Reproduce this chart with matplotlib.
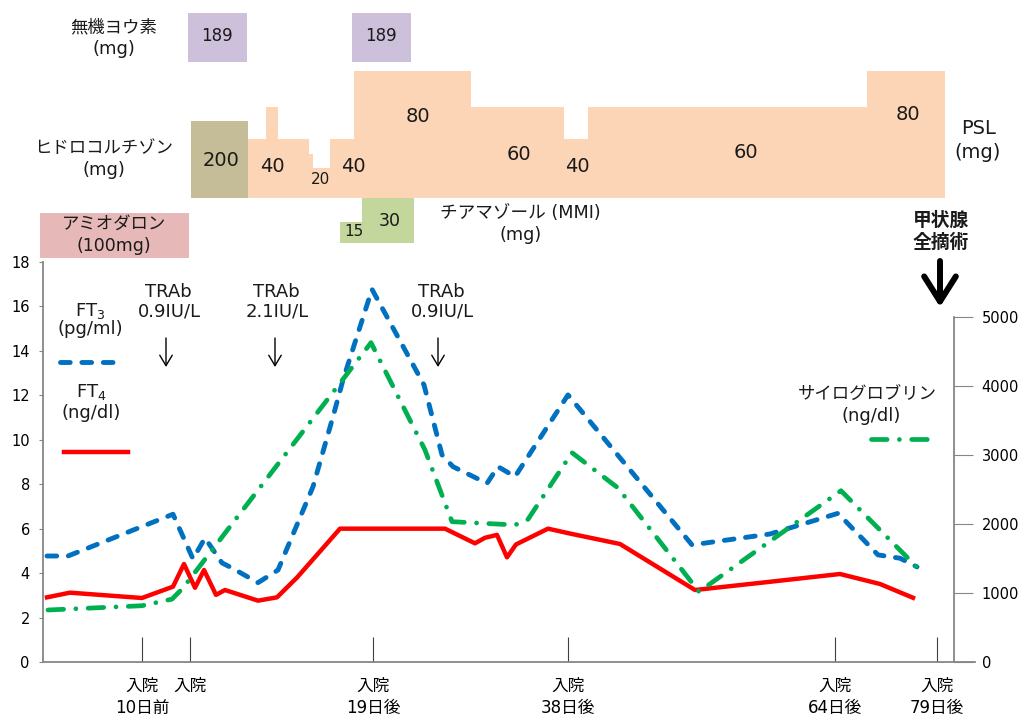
import matplotlib
matplotlib.use("Agg")
import matplotlib.pyplot as plt

plt.rcParams['font.family'] = ['DejaVu Sans', 'Noto Sans CJK JP']

# --- time positions (irregular category axis, chart units) ---
tick_pos = [142, 190, 373, 568, 835, 937]
tick_labels = ['入院\n10日前', '入院', '入院\n19日後', '入院\n38日後', '入院\n64日後', '入院\n79日後']

# FT3 (pg/ml)
ft3_x = [47, 68, 173, 193, 205, 222, 232, 258, 278, 313, 333, 343, 372, 424, 442, 453,
         487, 498, 515, 568, 692, 770, 838, 878, 900, 917]
ft3 = [4.77, 4.77, 6.65, 4.64, 5.58, 4.46, 4.23, 3.57, 4.14, 7.89, 11.04, 12.69, 16.77,
       12.47, 9.32, 8.79, 8.04, 8.79, 8.34, 12.02, 5.27, 5.76, 6.69, 4.82, 4.67, 4.28]

# FT4 (ng/dl)
ft4_x = [47, 70, 142, 173, 184, 195, 204, 216, 225, 258, 277, 297, 340, 445, 475, 485,
         497, 507, 516, 548, 570, 620, 695, 770, 840, 880, 913]
ft4 = [2.91, 3.12, 2.88, 3.39, 4.41, 3.34, 4.14, 3.02, 3.24, 2.76, 2.91, 3.8, 6.0, 6.0,
       5.34, 5.59, 5.72, 4.71, 5.29, 6.0, 5.78, 5.31, 3.24, 3.61, 3.96, 3.51, 2.89]

# Thyroglobulin (ng/dl), right axis
tg_x = [48, 142, 172, 183, 371, 425, 452, 515, 528, 572, 618, 699, 841, 918]
tg = [753, 815, 910, 1072, 4624, 3070, 2032, 1984, 2066, 3031, 2520, 1018, 2480, 1357]

# steroid panel (PSL-equivalent heights)
psl_start = [248, 266, 278, 309, 313, 330, 354, 471, 564, 588, 867]
psl_end = [266, 278, 309, 313, 330, 354, 471, 564, 588, 867, 945]
psl_level = [38.7, 60.3, 38.7, 29, 19.9, 38.7, 84.3, 60.3, 38.7, 60.3, 84.3]
hc_start, hc_end, hc_level = 191, 248, 51

mmi_start = [340, 362]
mmi_end = [362, 414]
mmi_dose = [13.6, 30]

iodine_start = [188, 352]
iodine_end = [247, 411]
amio_start, amio_end = 40, 189

BLUE = '#0070C0'
RED = '#FF0000'
GREEN = '#00B050'
GRAY = '#868686'
TG_DASH = (3.3, 2.6, 0.01, 2.6)

fig = plt.figure(figsize=(10.3, 7.15), dpi=100)
W, H = 1030, 715

# main chart
ax = fig.add_axes([43 / W, 53 / H, 932 / W, 400 / H])
ax.set_xlim(43, 975)
ax.set_ylim(0, 18)
ax.set_yticks(range(0, 19, 2))
for s in ['top', 'right']:
    ax.spines[s].set_visible(False)
for s in ['left', 'bottom']:
    ax.spines[s].set_color(GRAY)
    ax.spines[s].set_linewidth(1.3)
ax.tick_params(axis='y', direction='out', length=3, color=GRAY, labelsize=10.5, pad=6.5)
ax.set_xticks(tick_pos)
ax.set_xticklabels(tick_labels, fontsize=12, linespacing=1.25)
ax.tick_params(axis='x', direction='in', length=18, width=0.8, color='#404040', pad=11)

ax.plot(ft4_x, ft4, color=RED, lw=3.2)
ax.plot(ft3_x, ft3, color=BLUE, lw=3.5, dashes=(2.0, 2.4), dash_capstyle='round')

ax2 = ax.twinx()
ax2.set_ylim(0, 5000 * 400 / 345.3)
ax2.set_yticks(range(0, 5001, 1000))
for s in ['top', 'left', 'bottom']:
    ax2.spines[s].set_visible(False)
ax2.spines['right'].set_position(('data', 954))
ax2.spines['right'].set_bounds(0, 5000)
ax2.spines['right'].set_color(GRAY)
ax2.spines['right'].set_linewidth(1.3)
ax2.tick_params(axis='y', direction='out', length=14, color=GRAY, labelsize=10.5, pad=6)
ax2.plot(tg_x, tg, color=GREEN, lw=3.4, dashes=TG_DASH, dash_capstyle='round')

# drug panel
axt = fig.add_axes([43 / W, (H - 262) / H, 932 / W, 262 / H])
axt.set_xlim(43, 975)
axt.set_ylim(-43, 131.7)
axt.axis('off')
axt.bar(psl_start, psl_level, width=[e - s for s, e in zip(psl_start, psl_end)],
        align='edge', color='#FBD5B5', linewidth=0)
axt.bar(hc_start, hc_level, width=hc_end - hc_start, align='edge', color='#C4BD97', linewidth=0)
axt.bar(mmi_start, mmi_dose, width=[e - s for s, e in zip(mmi_start, mmi_end)],
        bottom=-30.1, align='edge', color='#C3D69B', linewidth=0)
axt.bar(iodine_start, 32.3, width=[e - s for s, e in zip(iodine_start, iodine_end)],
        bottom=90.5, align='edge', color='#CCC0DA', linewidth=0)
axt.bar(amio_start, 30, width=amio_end - amio_start, bottom=-40.2, align='edge',
        color='#E6B9B8', linewidth=0, clip_on=False)

# overlay for labels (pixel coords)
ov = fig.add_axes([0, 0, 1, 1])
ov.set_xlim(0, W)
ov.set_ylim(H, 0)
ov.axis('off')


def t(x, y, s, size=12, **kw):
    ov.text(x, y, s, fontsize=size, ha='center', va='center', color='#1a1a1a', **kw)


t(114, 27, '無機ヨウ素', 12.5)
t(114, 49, '(mg)', 13)
t(217, 36, '189', 12)
t(381, 36, '189', 12)
t(104, 148, 'ヒドロコルチゾン', 12.5)
t(104, 170, '(mg)', 13)
for x, y, s, sz in [(221, 160, '200', 14), (272.5, 166, '40', 14), (320, 179, '20', 11),
                    (353.5, 166, '40', 14), (418, 116, '80', 14), (519, 154, '60', 14),
                    (577.5, 167, '40', 14), (746, 152, '60', 14), (907.5, 114, '80', 14)]:
    t(x, y, s, sz)
t(979, 128, 'PSL', 14)
t(978, 152, '(mg)', 14)
t(114, 224, 'アミオダロン', 12.5)
t(114, 246, '(100mg)', 12.5)
t(354, 232, '15', 11)
t(389.5, 221, '30', 12.5)
t(520, 213, 'チアマゾール (MMI)', 12.7)
t(521, 235, '(mg)', 12.7)
t(941, 220, '甲状腺', 13.5, fontweight='bold')
t(941, 242, '全摘術', 13.5, fontweight='bold')

for x, v in [(168, '0.9IU/L'), (276, '2.1IU/L'), (441, '0.9IU/L')]:
    t(x, 292, 'TRAb', 13)
    t(x + 1.5, 312, v, 13)
for x in [166, 275, 438]:
    ov.annotate('', xy=(x, 367), xytext=(x, 338),
                arrowprops=dict(arrowstyle='->,head_length=0.5,head_width=0.3', lw=1,
                                color='black', shrinkA=0, shrinkB=0, mutation_scale=15))
ov.annotate('', xy=(940, 307), xytext=(940, 261),
            arrowprops=dict(arrowstyle='->,head_length=0.6,head_width=0.38', lw=4.3,
                            color='black', shrinkA=0, shrinkB=0, mutation_scale=30))

t(90, 311, 'FT$_3$', 13)
t(90, 329, '(pg/ml)', 13)
t(91, 392, 'FT$_4$', 13)
t(91, 413, '(ng/dl)', 13)
t(867, 395, 'サイログロブリン', 12.5)
t(871, 416, '(ng/dl)', 13)

ov.plot([60, 123], [362, 362], color=BLUE, lw=3.5, dashes=(2.0, 2.4), dash_capstyle='round')
ov.plot([64, 128], [452, 452], color=RED, lw=3.2)
ov.plot([871, 927], [439, 439], color=GREEN, lw=3.4, dashes=TG_DASH, dash_capstyle='round')

fig.savefig('out.png', dpi=100, facecolor='white')
